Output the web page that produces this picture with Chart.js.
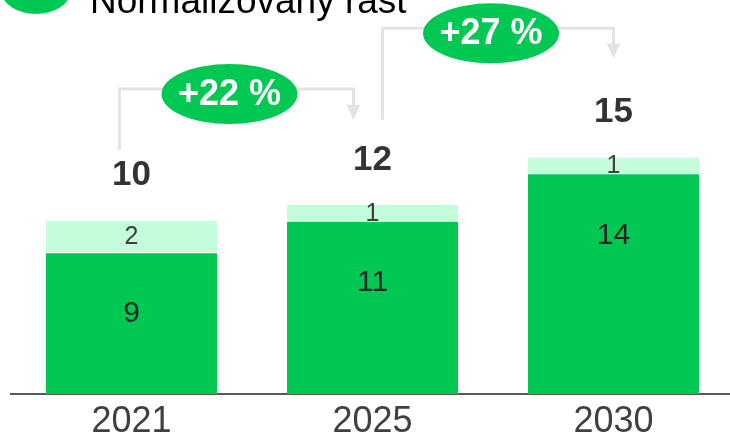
<!DOCTYPE html>
<html>
<head>
<meta charset="utf-8">
<script src="https://cdn.jsdelivr.net/npm/chart.js@4.4.0/dist/chart.umd.min.js"></script>
<style>
  html, body { margin: 0; padding: 0; background: #fff; overflow: hidden; }
  canvas { display: block; }
</style>
</head>
<body>
<canvas id="myChart" width="734" height="441"></canvas>
<script>
const years = ["2021", "2025", "2030"];
const baseValues = [9, 11, 14];
const extraValues = [2, 1, 1];
const totalLabels = [10, 12, 15];
const growthLabels = ["+22 %", "+27 %"];
const legendLabel = "Normalizovaný rast";

const darkGreen = "#00c853";
const lightGreen = "#c4fdd9";
const font = "'Liberation Sans', Arial, sans-serif";

// growth brackets between two years, levels in y-axis units
const growthArrows = [
  { from: 0, to: 1, dxFrom: -12, dxTo: -19, level: 19.35, start: 15.5, tip: 17.4 },
  { from: 1, to: 2, dxFrom: 10, dxTo: 0, level: 23.2, start: 17.4, tip: 21.3 }
];

const legendPlugin = {
  id: "topLegend",
  afterDraw(chart) {
    const ctx = chart.ctx;
    ctx.save();
    ctx.fillStyle = darkGreen;
    ctx.beginPath();
    ctx.ellipse(36, -8, 34, 22, 0, 0, Math.PI * 2);
    ctx.fill();
    ctx.fillStyle = "#000";
    ctx.font = "37px " + font;
    ctx.textBaseline = "alphabetic";
    ctx.fillText(legendLabel, 90, 13);
    ctx.restore();
  }
};

const arrowPlugin = {
  id: "growthArrows",
  afterDraw(chart) {
    const ctx = chart.ctx;
    const xs = chart.scales.x;
    const ys = chart.scales.y;
    ctx.save();
    growthArrows.forEach((a, i) => {
      const x1 = xs.getPixelForValue(a.from) + a.dxFrom;
      const x2 = xs.getPixelForValue(a.to) + a.dxTo;
      const yl = ys.getPixelForValue(a.level);
      const y0 = ys.getPixelForValue(a.start);
      const yt = ys.getPixelForValue(a.tip);
      ctx.strokeStyle = "#e3e3e3";
      ctx.lineWidth = 3;
      ctx.beginPath();
      ctx.moveTo(x1, y0);
      ctx.lineTo(x1, yl);
      ctx.lineTo(x2, yl);
      ctx.lineTo(x2, yt - 14);
      ctx.stroke();
      ctx.fillStyle = "#e3e3e3";
      ctx.beginPath();
      ctx.moveTo(x2 - 7, yt - 15);
      ctx.lineTo(x2 + 7, yt - 15);
      ctx.lineTo(x2, yt);
      ctx.closePath();
      ctx.fill();

      const cx = (x1 + x2) / 2 - 7;
      const cy = yl + 5;
      ctx.fillStyle = darkGreen;
      ctx.beginPath();
      ctx.ellipse(cx, cy, 68, 30, 0, 0, Math.PI * 2);
      ctx.fill();
      ctx.fillStyle = "#fff";
      ctx.font = "bold 36px " + font;
      ctx.textAlign = "center";
      ctx.textBaseline = "middle";
      ctx.fillText(growthLabels[i], cx, cy + 1);
    });
    ctx.restore();
  }
};

const labelPlugin = {
  id: "barLabels",
  afterDatasetsDraw(chart) {
    const ctx = chart.ctx;
    const base = chart.getDatasetMeta(0).data;
    const extra = chart.getDatasetMeta(1).data;
    ctx.save();
    ctx.textAlign = "center";
    ctx.textBaseline = "middle";
    base.forEach((bar, i) => {
      ctx.font = "30px " + font;
      ctx.fillStyle = "#262626";
      ctx.fillText(baseValues[i], bar.x, bar.y + 62);

      const top = extra[i];
      ctx.font = "25px " + font;
      ctx.fillStyle = "#404040";
      ctx.fillText(extraValues[i], top.x, (top.y + top.base) / 2 + 1);

      ctx.font = "bold 35px " + font;
      ctx.fillStyle = "#333";
      ctx.fillText(totalLabels[i], top.x, top.y - 45);
    });
    ctx.restore();
  }
};

const ctx = document.getElementById("myChart").getContext("2d");
const myChart = new Chart(ctx, {
  type: "bar",
  data: {
    labels: years,
    datasets: [
      {
        label: legendLabel,
        data: baseValues,
        backgroundColor: darkGreen,
        borderColor: "#fff",
        borderWidth: { top: 1, left: 0, right: 0, bottom: 0 },
        barPercentage: 0.71,
        categoryPercentage: 1
      },
      {
        label: "extra",
        data: extraValues,
        backgroundColor: lightGreen,
        borderWidth: 0,
        barPercentage: 0.71,
        categoryPercentage: 1
      }
    ]
  },
  options: {
    responsive: false,
    animation: false,
    layout: { padding: { left: 11, right: 0, top: 0, bottom: 0 } },
    plugins: {
      legend: { display: false },
      tooltip: { enabled: false }
    },
    scales: {
      x: {
        stacked: true,
        grid: { display: false, drawTicks: false },
        border: { display: true, color: "#595959", width: 2 },
        ticks: { color: "#404040", font: { size: 36, family: font }, padding: 6 },
        afterFit(axis) { axis.height = 47; }
      },
      y: {
        stacked: true,
        display: false,
        min: 0,
        max: 25
      }
    }
  },
  plugins: [labelPlugin, arrowPlugin, legendPlugin]
});
</script>
</body>
</html>
